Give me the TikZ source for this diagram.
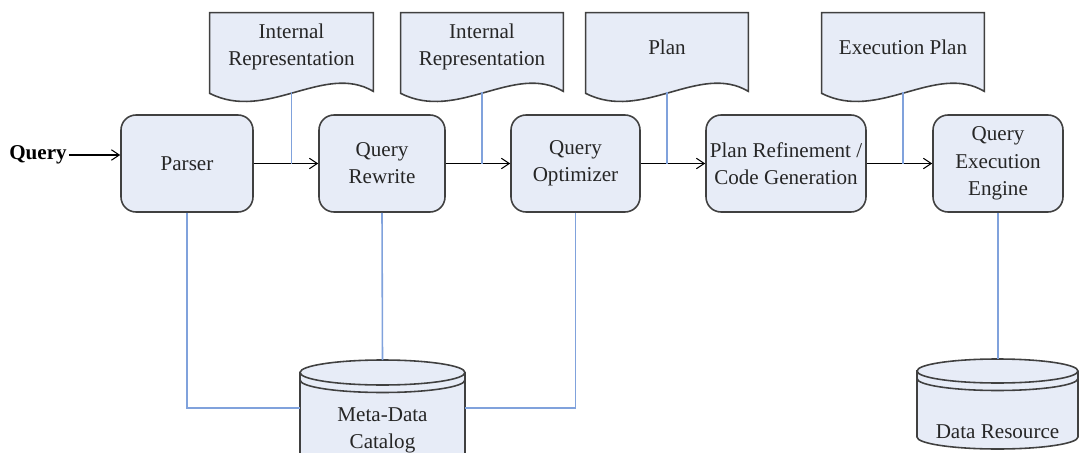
\documentclass[tikz,border=0pt]{standalone}
\usepackage{fontspec}
\setmainfont{Liberation Serif}
\usetikzlibrary{arrows.meta,calc}

\definecolor{boxfill}{RGB}{231,236,247}
\definecolor{boxdraw}{RGB}{64,64,64}
\definecolor{linkblue}{RGB}{128,162,220}

\tikzset{
  lbl/.style={font=\fontsize{12}{15.5}\selectfont, text=black!85, align=center},
  procbox/.style={lbl, rectangle, rounded corners=0.3cm, draw=boxdraw, fill=boxfill,
    line width=0.9pt, inner sep=0pt, minimum height=1.94cm},
  docbox/.style={lbl, rectangle, inner sep=0pt, minimum height=1.58cm},
  docline/.style={draw=boxdraw, fill=boxfill, line width=0.9pt},
  flow/.style={draw=black, line width=0.6pt, -{Straight Barb[length=4.5pt,width=6pt]}},
  link/.style={draw=linkblue, line width=0.9pt},
}

% document outline (flat top, wavy bottom) around a docbox node
\newcommand\docoutline[1]{%
  \path[docline]
    (#1.north west) -- (#1.north east)
    -- ([yshift=0.02cm]#1.south east)
    .. controls ($(#1.south west)!0.7!(#1.south east)+(0,0.6cm)$)
       and ($(#1.south west)!0.35!(#1.south east)+(0,-0.6cm)$)
    .. ([yshift=-0.02cm]#1.south west) -- cycle;}

% database drum: left x, right x, top-centre y, bottom-centre y, radii
\newcommand\drum[6]{%
  \path[docline] (#1,#3) -- (#1,#4)
    arc[start angle=180,end angle=360,x radius=#5,y radius=#6]
    -- (#2,#3)
    arc[start angle=0,end angle=180,x radius=#5,y radius=#6] -- cycle;
  \draw[boxdraw, line width=0.9pt] (#1,#3)
    arc[start angle=180,end angle=360,x radius=#5,y radius=#6];
  \draw[boxdraw, line width=0.9pt] ($(#1,#3)+(0,-0.15cm)$)
    arc[start angle=180,end angle=360,x radius=#5,y radius=#6];}

\begin{document}
\begin{tikzpicture}[x=0.02cm, y=-0.02cm]
\useasboundingbox (0,0) rectangle (1079,453);

% processing steps
\node[procbox, minimum width=2.64cm] (parser) at (187,163.5) {Parser};
\node[procbox, minimum width=2.52cm] (rewrite) at (382,163.5) {Query\\Rewrite};
\node[procbox, minimum width=2.58cm] (optim) at (575.5,163.5) {Query\\Optimizer};
\node[procbox, minimum width=3.2cm] (refine) at (786,163.5) {Plan Refinement /\\Code Generation};
\node[procbox, minimum width=2.6cm] (engine) at (998,163.5) {Query\\Execution\\Engine};

% intermediate documents
\node[docbox, minimum width=3.26cm] (ir1) at (291.5,52.5) {};
\node[docbox, minimum width=3.24cm] (ir2) at (482,52.5) {};
\node[docbox, minimum width=3.24cm] (plan) at (667,52.5) {};
\node[docbox, minimum width=3.24cm] (xplan) at (903,52.5) {};
\docoutline{ir1}
\docoutline{ir2}
\docoutline{plan}
\docoutline{xplan}
\node[lbl] (ir1t) at (291.5,47) {Internal\\Representation};
\node[lbl] (ir2t) at (482,47) {Internal\\Representation};
\node[lbl] (plant) at (667,47) {Plan};
\node[lbl] (xplant) at (903,47) {Execution Plan};

% data stores
\drum{300}{465}{372.5}{462}{1.65cm}{0.25cm}
\node[lbl] (meta) at (382.5,430) {Meta-Data\\Catalog};
\coordinate (metatop) at (382.5,360);
\coordinate (metaL) at (300,408);
\coordinate (metaR) at (465,408);

\drum{917}{1078}{371}{437}{1.61cm}{0.24cm}
\node[lbl] (data) at (997.5,432) {Data Resource};
\coordinate (datatop) at (998,359);

% input
\node[font=\fontsize{12}{14}\selectfont\bfseries, inner sep=1pt] (query) at (38,155) {Query};
\draw[flow] (query.east) -- (query.east -| parser.west);

% main flow
\draw[flow] (parser) -- (rewrite);
\draw[flow] (rewrite) -- (optim);
\draw[flow] (optim) -- (refine);
\draw[flow] (refine) -- (engine);

% documents feeding the flow
\draw[link] (ir1.south) -- (ir1.south |- parser.east);
\draw[link] (ir2.south) -- (ir2.south |- rewrite.east);
\draw[link] (plan.south) -- (plan.south |- optim.east);
\draw[link] (xplan.south) -- (xplan.south |- refine.east);

% catalogue and data access
\draw[link] (parser.south) |- (metaL);
\draw[link] (optim.south) |- (metaR);
\draw[link] (rewrite.south) -- (metatop);
\draw[link] (engine.south) -- (datatop);
\end{tikzpicture}
\end{document}
